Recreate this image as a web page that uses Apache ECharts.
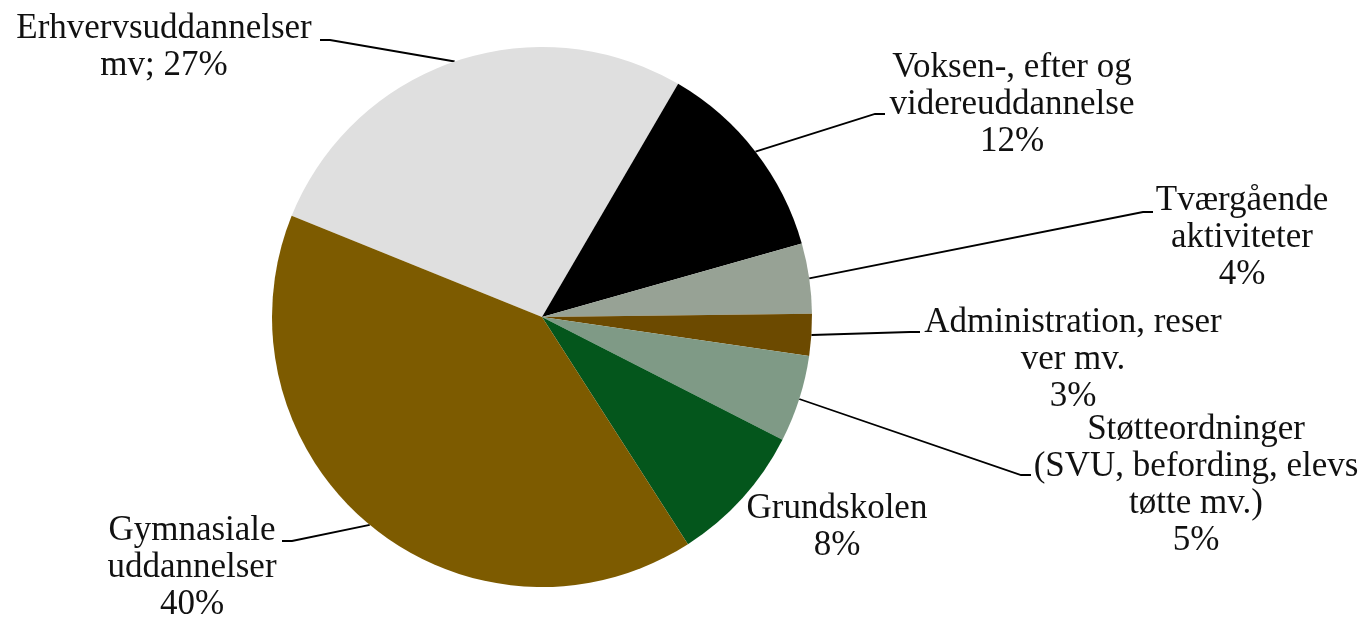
<!DOCTYPE html>
<html>
<head>
<meta charset="utf-8">
<script src="https://cdn.jsdelivr.net/npm/echarts@6/dist/echarts.min.js"></script>
<style>
  html, body { margin: 0; padding: 0; background: #fff; }
  #chart { width: 1360px; height: 618px; }
</style>
</head>
<body>
<div id="chart"></div>
<script>
// andele i procent, læst af figuren
const names = [
  'Erhvervsuddannelser mv',
  'Voksen-, efter og videreuddannelse',
  'Tværgående aktiviteter',
  'Administration, reserver mv.',
  'Støtteordninger (SVU, befording, elevstøtte mv.)',
  'Grundskolen',
  'Gymnasiale uddannelser'
];
const values = [27.3, 12.2, 4.2, 2.5, 5.2, 8.4, 40.2];
// label-tekst som i figuren, {p} = procent
const labelText = [
  'Erhvervsuddannelser\nmv; {p}',
  'Voksen-, efter og\nvidereuddannelse\n{p}',
  'Tværgående\naktiviteter\n{p}',
  'Administration, reser\nver mv.\n{p}',
  'Støtteordninger\n(SVU, befording, elevs\ntøtte mv.)\n{p}',
  'Grundskolen\n{p}',
  'Gymnasiale\nuddannelser\n{p}'
];
const colors = ['#dfdfdf', '#000000', '#97a295', '#6c4a00', '#7f9a86', '#04561c', '#7d5b00'];

// placering af labels (midte) og enden af forbindelseslinjen
const labelPos = [[164, 47], [1012, 105], [1242, 238], [1073, 360], [1196, 485], [837, 527], [192, 568]];
const lineEnd = [[320, 40], [885, 114], [1153, 212], [920, 332], [1031, 475], null, [282, 541]];

const chart = echarts.init(document.getElementById('chart'));

const data = names.map((n, i) => ({
  name: n,
  value: values[i],
  itemStyle: { color: colors[i] },
  labelLine: { show: lineEnd[i] !== null }
}));

chart.setOption({
  animation: false,
  backgroundColor: '#ffffff',
  series: [{
    type: 'pie',
    center: [542, 317],
    radius: 270,
    startAngle: 158,
    clockwise: true,
    avoidLabelOverlap: false,
    data: data,
    itemStyle: { borderWidth: 0 },
    label: {
      show: true,
      position: 'outside',
      fontFamily: 'Liberation Serif',
      fontSize: 35,
      lineHeight: 37,
      color: '#111',
      align: 'center',
      formatter: p => labelText[p.dataIndex].replace('{p}', Math.round(p.value) + '%')
    },
    labelLine: {
      show: true,
      length: 10,
      length2: 10,
      lineStyle: { color: '#000', width: 1.8 }
    },
    labelLayout: function (params) {
      const i = params.dataIndex;
      const res = {
        x: labelPos[i][0],
        y: labelPos[i][1],
        align: 'center',
        verticalAlign: 'middle'
      };
      const end = lineEnd[i];
      if (end && params.labelLinePoints) {
        const start = params.labelLinePoints[0];
        const dir = end[0] < start[0] ? 1 : -1;
        res.labelLinePoints = [
          [start[0], start[1]],
          [end[0] + dir * 10, end[1]],
          [end[0], end[1]]
        ];
      }
      return res;
    }
  }]
});
</script>
</body>
</html>
